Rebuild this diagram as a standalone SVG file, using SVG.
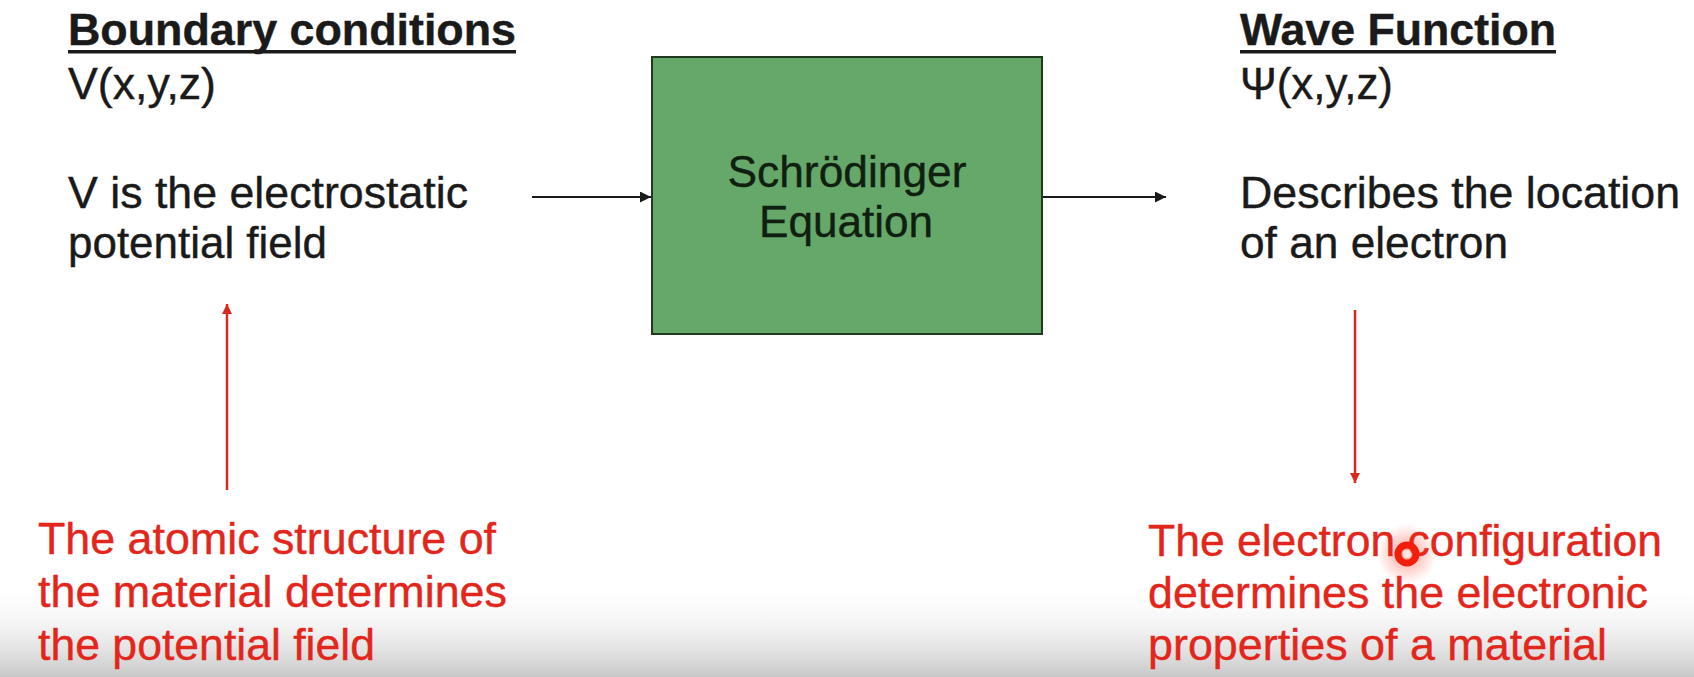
<svg xmlns="http://www.w3.org/2000/svg" width="1694" height="677" viewBox="0 0 1694 677">
  <style>
    .t { font-family: "Liberation Sans", Arial, sans-serif; font-size: 44px; fill: #1a1a1a; stroke: #1a1a1a; stroke-width: 0.4; }
    .b { font-weight: bold; }
    .r { font-family: "Liberation Sans", Arial, sans-serif; font-size: 44px; fill: #e3261b; stroke: #e3261b; stroke-width: 0.4; }
    .c { font-family: "Liberation Sans", Arial, sans-serif; font-size: 44px; fill: #102010; stroke: #102010; stroke-width: 0.4; text-anchor: middle; }
    .k { stroke: #1a1a1a; stroke-width: 2; fill: none; }
    .rl { stroke: #d9291e; stroke-width: 2.5; fill: none; }
  </style>
  <defs>
    <marker id="ak" viewBox="0 0 10 10" refX="10" refY="5" markerWidth="12" markerHeight="11" markerUnits="userSpaceOnUse" orient="auto">
      <path d="M0,0 L10,5 L0,10 z" fill="#1a1a1a"/>
    </marker>
    <marker id="ar" viewBox="0 0 10 10" refX="10" refY="5" markerWidth="12" markerHeight="10" markerUnits="userSpaceOnUse" orient="auto">
      <path d="M0,0 L10,5 L0,10 z" fill="#d9291e"/>
    </marker>
    <linearGradient id="band" x1="0" y1="0" x2="0" y2="1">
      <stop offset="0" stop-color="#ffffff" stop-opacity="0"/>
      <stop offset="1" stop-color="#c8c8c8" stop-opacity="1"/>
    </linearGradient>
    <radialGradient id="glow">
      <stop offset="0" stop-color="#ff2a10" stop-opacity="0.45"/>
      <stop offset="1" stop-color="#ff2a10" stop-opacity="0"/>
    </radialGradient>
  </defs>
  <rect width="1694" height="677" fill="#ffffff"/>
  <rect x="0" y="580" width="1694" height="97" fill="url(#band)"/>

  <g id="boundary">
    <text class="t b" x="68" y="45" textLength="448" lengthAdjust="spacingAndGlyphs">Boundary conditions</text>
    <rect x="68" y="50" width="448" height="3.5" fill="#1a1a1a"/>
    <text class="t" x="68" y="99" textLength="148" lengthAdjust="spacingAndGlyphs">V(x,y,z)</text>
    <text class="t" x="68" y="208" textLength="400" lengthAdjust="spacingAndGlyphs">V is the electrostatic</text>
    <text class="t" x="68" y="258" textLength="259" lengthAdjust="spacingAndGlyphs">potential field</text>
  </g>

  <g id="schrodinger">
    <rect x="652" y="57" width="390" height="277" fill="#66a86a" stroke="#1f3a1f" stroke-width="2"/>
    <text class="c" x="847" y="187" textLength="239" lengthAdjust="spacingAndGlyphs">Schrödinger</text>
    <text class="c" x="846" y="237" textLength="174" lengthAdjust="spacingAndGlyphs">Equation</text>
  </g>

  <g id="wavefunction">
    <text class="t b" x="1240" y="45" textLength="316" lengthAdjust="spacingAndGlyphs">Wave Function</text>
    <rect x="1240" y="50" width="316" height="3.5" fill="#1a1a1a"/>
    <text class="t" x="1240" y="99" textLength="153" lengthAdjust="spacingAndGlyphs">Ψ(x,y,z)</text>
    <text class="t" x="1240" y="208" textLength="440" lengthAdjust="spacingAndGlyphs">Describes the location</text>
    <text class="t" x="1240" y="258" textLength="268" lengthAdjust="spacingAndGlyphs">of an electron</text>
  </g>

  <g id="atomic">
    <text class="r" x="38" y="554" textLength="458" lengthAdjust="spacingAndGlyphs">The atomic structure of</text>
    <text class="r" x="38" y="607" textLength="469" lengthAdjust="spacingAndGlyphs">the material determines</text>
    <text class="r" x="38" y="660" textLength="337" lengthAdjust="spacingAndGlyphs">the potential field</text>
  </g>

  <g id="electron">
    <text class="r" x="1148" y="556" textLength="514" lengthAdjust="spacingAndGlyphs">The electron configuration</text>
    <text class="r" x="1148" y="608" textLength="500" lengthAdjust="spacingAndGlyphs">determines the electronic</text>
    <text class="r" x="1148" y="660" textLength="459" lengthAdjust="spacingAndGlyphs">properties of a material</text>
  </g>

  <g id="connectors">
    <line class="k" x1="532" y1="197" x2="651" y2="197" marker-end="url(#ak)"/>
    <line class="k" x1="1043" y1="197" x2="1166" y2="197" marker-end="url(#ak)"/>
    <line class="rl" x1="227" y1="490" x2="227" y2="304" marker-end="url(#ar)"/>
    <line class="rl" x1="1355" y1="310" x2="1355" y2="483" marker-end="url(#ar)"/>
  </g>

  <g id="pointer">
    <circle cx="1407" cy="554" r="30" fill="url(#glow)"/>
    <circle cx="1407" cy="554" r="9" fill="none" stroke="#f01e0a" stroke-width="7"/>
    <circle cx="1407" cy="554" r="4" fill="#ffe6e0"/>
  </g>
</svg>
